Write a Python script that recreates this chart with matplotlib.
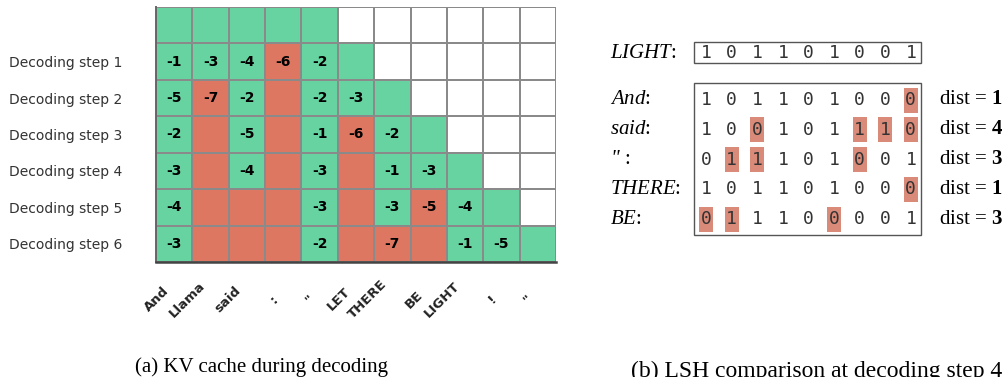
import numpy as np
import matplotlib
matplotlib.use('Agg')
import matplotlib.pyplot as plt
from matplotlib.colors import ListedColormap
from matplotlib.patches import Rectangle
from matplotlib.transforms import ScaledTranslation

plt.rcParams['mathtext.fontset'] = 'custom'
plt.rcParams['mathtext.rm'] = 'Liberation Serif'
plt.rcParams['mathtext.it'] = 'Liberation Serif:italic'
plt.rcParams['mathtext.bf'] = 'Liberation Serif:bold'

# ---- (a) KV cache data ----
tokens = ['And', 'Llama', 'said', ':', '"', 'LET', 'THERE', 'BE', 'LIGHT', '!', '"']
row_labels = ['', 'Decoding step 1', 'Decoding step 2', 'Decoding step 3',
              'Decoding step 4', 'Decoding step 5', 'Decoding step 6']
# G = kept (green), R = evicted (red), W = not yet generated
cell_state = [
    "GGGGGWWWWWW",
    "GGGRGGWWWWW",
    "GRGRGGGWWWW",
    "GRGRGRGGWWW",
    "GRGRGRGGGWW",
    "GRRRGRGRGGW",
    "GRRRGRRRGGG",
]
N = None
scores = [
    [N, N, N, N, N, N, N, N, N, N, N],
    [-1, -3, -4, -6, -2, N, N, N, N, N, N],
    [-5, -7, -2, N, -2, -3, N, N, N, N, N],
    [-2, N, -5, N, -1, -6, -2, N, N, N, N],
    [-3, N, -4, N, -3, N, -1, -3, N, N, N],
    [-4, N, N, N, -3, N, -3, -5, -4, N, N],
    [-3, N, N, N, -2, N, -7, N, -1, -5, N],
]

# ---- (b) LSH data ----
query_name = 'LIGHT'
query_bits = [1, 0, 1, 1, 0, 1, 0, 0, 1]
key_names = ['And', 'said', '"', 'THERE', 'BE']
key_bits = [
    [1, 0, 1, 1, 0, 1, 0, 0, 0],
    [1, 0, 0, 1, 0, 1, 1, 1, 0],
    [0, 1, 1, 1, 0, 1, 0, 0, 1],
    [1, 0, 1, 1, 0, 1, 0, 0, 0],
    [0, 1, 1, 1, 0, 0, 0, 0, 1],
]
key_marked = [[8], [2, 6, 7, 8], [1, 2, 6], [8], [0, 1, 5]]
key_dist = [1, 4, 3, 1, 3]

GREEN = '#66D3A0'
RED = '#DE7762'
HL = '#D98A78'
W, H = 1003, 377

fig = plt.figure(figsize=(W / 100, H / 100), dpi=100)

# ---------------- left panel ----------------
ax = fig.add_axes([156 / W, 1 - 262 / H, 400 / W, 255 / H])
code = {'W': 0, 'G': 1, 'R': 2}
grid = np.array([[code[c] for c in row] for row in cell_state])
cmap = ListedColormap(['white', GREEN, RED])
ax.pcolormesh(np.arange(12), np.arange(8), grid, cmap=cmap, vmin=0, vmax=2,
              edgecolors='#8a8a8a', linewidth=1.3)
ax.set_xlim(0, 11)
ax.set_ylim(7, 0)

for i, row in enumerate(scores):
    for j, v in enumerate(row):
        if v is not None:
            ax.text(j + 0.5, i + 0.5, str(v), ha='center', va='center',
                    fontsize=10, fontweight='bold', color='black')

ax.set_xticks(np.arange(11) + 0.5)
ax.set_xticklabels(tokens, rotation=45, ha='right', va='center',
                   fontsize=9.5, fontweight='bold', color='#222222')
ax.set_yticks(np.arange(7) + 0.5)
ax.set_yticklabels(row_labels, fontsize=10, color='#333333')
ax.tick_params(axis='x', length=0, pad=27)
ax.tick_params(axis='y', length=0, pad=24)
shift = ScaledTranslation(-3 / 100, 0, fig.dpi_scale_trans)
for lab in ax.get_xticklabels():
    lab.set_transform(lab.get_transform() + shift)

for s in ['top', 'right']:
    ax.spines[s].set_visible(False)
ax.spines['left'].set_color('#666666')
ax.spines['left'].set_linewidth(1.4)
ax.spines['bottom'].set_color('#444444')
ax.spines['bottom'].set_linewidth(1.8)

# ---------------- right panel (pixel coordinates) ----------------
ov = fig.add_axes([0, 0, 1, 1])
ov.set_xlim(0, W)
ov.set_ylim(H, 0)
ov.axis('off')

bit_x0, bit_dx = 706, 25.6
label_x = 610
serif = 'Liberation Serif'

# query row
qy = 53
ov.add_patch(Rectangle((694, 42), 227, 21, fill=False, edgecolor='#555555', lw=1.0))
ov.text(label_x, qy, r'$\mathit{' + query_name + '}$:', fontsize=15, family=serif,
        ha='left', va='center')
for j, b in enumerate(query_bits):
    ov.text(bit_x0 + j * bit_dx, qy, str(b), fontsize=13, family='DejaVu Sans Mono',
            ha='center', va='center', color='#333333')

# key rows
ov.add_patch(Rectangle((694, 83), 227, 152, fill=False, edgecolor='#555555', lw=1.0))
row_y0, row_dy = 100, 29.8
for i, name in enumerate(key_names):
    y = row_y0 + i * row_dy
    if name == '"':
        ov.text(label_x, y, '"', fontsize=15, family=serif, style='italic',
                ha='left', va='center')
        ov.text(label_x + 14, y, ':', fontsize=15, family=serif, ha='left', va='center')
    else:
        ov.text(label_x, y, r'$\mathit{' + name + '}$:', fontsize=15, family=serif,
                ha='left', va='center')
    for j in key_marked[i]:
        ov.add_patch(Rectangle((bit_x0 + j * bit_dx - 7, y - 12.5), 14, 25,
                               facecolor=HL, edgecolor='none'))
    for j, b in enumerate(key_bits[i]):
        ov.text(bit_x0 + j * bit_dx, y, str(b), fontsize=13, family='DejaVu Sans Mono',
                ha='center', va='center', color='#333333')
    ov.text(939, y, r'dist = $\mathbf{%d}$' % key_dist[i], fontsize=15, family=serif,
            ha='left', va='center')

# captions
ov.text(135, 372, '(a) KV cache during decoding', fontsize=15, family=serif,
        ha='left', va='baseline')
ov.text(631, 377, '(b) LSH comparison at decoding step 4', fontsize=17, family=serif,
        ha='left', va='baseline')

fig.savefig('out.png', dpi=100)
